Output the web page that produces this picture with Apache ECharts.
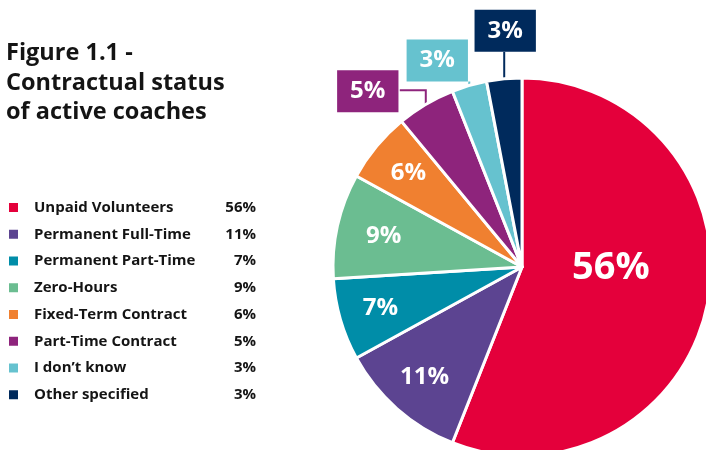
<!DOCTYPE html>
<html>
<head>
<meta charset="utf-8">
<script src="https://cdn.jsdelivr.net/npm/echarts@6/dist/echarts.min.js"></script>
<style>
  html, body { margin: 0; padding: 0; background: #ffffff; }
  #chart { width: 706px; height: 450px; }
</style>
</head>
<body>
<div id="chart"></div>
<script>
// Contractual status of active coaches (percent of respondents)
const categories = [
  'Unpaid Volunteers',
  'Permanent Full-Time',
  'Permanent Part-Time',
  'Zero-Hours',
  'Fixed-Term Contract',
  'Part-Time Contract',
  'I don\u2019t know',
  'Other specified'
];
const shares = [56, 11, 7, 9, 6, 5, 3, 3];
const sliceColors = ['#e4003b', '#5c4491', '#008da8', '#6bbd91', '#f08030', '#8e247c', '#66c2cf', '#002a5c'];

// Slices small enough to carry their value in a box outside the pie
const boxedSlices = [5, 6, 7];

const FONT = '"Open Sans", "DejaVu Sans", sans-serif';
const CX = 522, CY = 267, R = 189;

const total = shares.reduce((a, b) => a + b, 0);
function midAngle(i) {
  let before = 0;
  for (let k = 0; k < i; k++) before += shares[k];
  return (before + shares[i] / 2) / total * Math.PI * 2;
}
function pointAt(i, r) {
  const a = midAngle(i);
  return [CX + r * Math.sin(a), CY - r * Math.cos(a)];
}

function placeLabel(params) {
  const i = params.dataIndex;
  if (i === 0) {
    return { x: CX + 0.47 * R, y: CY + 1, align: 'center', verticalAlign: 'middle' };
  }
  const p = pointAt(i, R);
  if (i === 7) {
    const top = p[1] - 27;
    return { x: p[0] + 1, y: top - 21, align: 'center', verticalAlign: 'middle',
             labelLinePoints: [[p[0], p[1]], [p[0], (p[1] + top) / 2], [p[0], top]] };
  }
  if (i === 6) {
    const top = p[1] - 4;
    return { x: p[0] - 32, y: top - 21, align: 'center', verticalAlign: 'middle',
             labelLinePoints: [[p[0], p[1]], [p[0], top], [p[0], top]] };
  }
  if (i === 5) {
    const elbowY = p[1] - 14;
    return { x: p[0] - 58, y: p[1] - 13, align: 'center', verticalAlign: 'middle',
             labelLinePoints: [[p[0], p[1]], [p[0], elbowY], [p[0] - 26, elbowY]] };
  }
  const c = pointAt(i, (i === 3 ? 0.75 : 0.78) * R);
  return { x: c[0], y: c[1], align: 'center', verticalAlign: 'middle' };
}

const pieData = categories.map((name, i) => {
  const item = { name: name, value: shares[i], itemStyle: { color: sliceColors[i] } };
  if (boxedSlices.indexOf(i) >= 0) {
    item.label = {
      position: 'outside',
      backgroundColor: sliceColors[i],
      padding: [9, 13],
      lineHeight: 24
    };
    item.labelLine = { show: true, lineStyle: { color: sliceColors[i], width: 2 } };
  } else {
    item.label = { position: 'inside' };
    item.labelLine = { show: false };
  }
  if (i === 0) item.label.fontSize = 38;
  return item;
});

const chart = echarts.init(document.getElementById('chart'), null, { renderer: 'canvas' });
chart.setOption({
  animation: false,
  backgroundColor: '#ffffff',
  title: {
    text: 'Figure 1.1 -\nContractual status\nof active coaches',
    left: 6,
    top: 39,
    padding: 0,
    textStyle: {
      fontFamily: FONT,
      fontSize: 23.5,
      fontWeight: 'bold',
      lineHeight: 29.5,
      color: '#141414'
    }
  },
  legend: {
    orient: 'vertical',
    left: 7,
    top: 200,
    padding: 0,
    icon: 'rect',
    itemWidth: 11,
    itemHeight: 11,
    itemGap: 11.75,
    selectedMode: false,
    data: categories,
    formatter: function (name) {
      const i = categories.indexOf(name);
      return '{s|}{n|' + name + '}{v|' + shares[i] + '%}';
    },
    textStyle: {
      fontFamily: FONT,
      fontWeight: 'bold',
      fontSize: 15,
      color: '#141414',
      rich: {
        s: { width: 10, height: 16 },
        n: { width: 182, lineHeight: 16, fontFamily: FONT, fontWeight: 'bold', fontSize: 15, color: '#141414' },
        v: { width: 40, align: 'right', lineHeight: 16, fontFamily: FONT, fontWeight: 'bold', fontSize: 15, color: '#141414' }
      }
    }
  },
  series: [{
    type: 'pie',
    center: [CX, CY],
    radius: [0, R],
    startAngle: 90,
    clockwise: true,
    avoidLabelOverlap: false,
    silent: true,
    itemStyle: { borderColor: '#ffffff', borderWidth: 3 },
    label: {
      show: true,
      formatter: '{c}%',
      color: '#ffffff',
      fontFamily: FONT,
      fontWeight: 'bold',
      fontSize: 24
    },
    labelLayout: placeLabel,
    data: pieData
  }]
});
</script>
</body>
</html>
